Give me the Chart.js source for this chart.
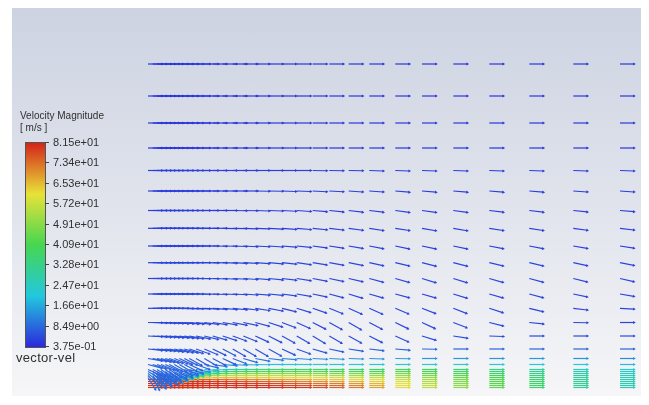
<!DOCTYPE html>
<html>
<head>
<meta charset="utf-8">
<script src="https://cdn.jsdelivr.net/npm/chart.js@4.4.0/dist/chart.umd.min.js"></script>
<style>
  body { margin: 0; background: #fff; }
  #frame { position: absolute; left: 0; top: 0; width: 649px; height: 405px; overflow: hidden;
           font-family: "Liberation Sans", Arial, sans-serif; color: #303030; }
  #panel { position: absolute; left: 12px; top: 8px; width: 629px; height: 388px;
           background: linear-gradient(#cdd3e2, #e2e5ed 55%, #f6f6f8); }
  #plot { position: absolute; left: 0; top: 0; width: 649px; height: 405px; }
  #bar { position: absolute; left: 25px; top: 142px; width: 19px; height: 204px; border: 1px solid #555; }
  .lbl { position: absolute; left: 53px; font-size: 11px; line-height: 12px; white-space: nowrap; }
  .tick { position: absolute; left: 45px; width: 4px; height: 1px; background: #444; }
  #title { position: absolute; left: 20px; top: 110px; font-size: 10px; line-height: 12px; white-space: nowrap; }
  #unit { position: absolute; left: 20px; top: 122px; font-size: 10px; line-height: 12px; white-space: nowrap; }
  #var { position: absolute; left: 16px; top: 351px; font-size: 13px; line-height: 14px; letter-spacing: 0.3px; white-space: nowrap; }
</style>
</head>
<body>
<div id="frame">
  <div id="panel"></div>
  <div id="plot"><canvas id="vecChart"></canvas></div>
  <div id="title"></div>
  <div id="unit"></div>
  <div id="bar"></div>
  <div id="var"></div>
</div>
<script>
// cell centres: streamwise distance from the jet exit, height above the wall
const colX = [0, 4.7, 9, 13, 17.3, 21.3, 26.3, 31.3, 36.3, 41.3, 48, 56.3, 64.7, 74.7, 84.7, 95.3,
  107.3, 120.7, 134, 148.7, 164.7, 181.3, 200.7, 221.3, 247.3, 274, 305.3, 341.3, 381.3, 425.3, 472];
const rowY = [325, 293, 266, 241, 218.5, 198, 178.5, 160.7, 143, 126.3, 110.5, 95, 80.7, 66.5,
  53, 40, 30.5, 24.5, 19.5, 17.5, 15.5, 13.5, 11.5, 9.5, 7.5, 5.5, 3.5, 1.5];

// downward tilt of each vector, degrees (row by row, top to bottom)
const dipDeg = [
  [0,0,0,0,0,0,0,0,0,0,0,0,0,0,0,0,0,0,0,0,0,0,0,0,0,0,0,0,0,0,0],
  [0,0,0,0,0,0,0,0,0,0,0,0,0,0,0,0,0,0,0,0,0,0,0,0,0,0,0,0,0,0,0],
  [0,0,0,0,0,0,0,0,0,0,0,0,0,0,0,0,0,0,0,0,0,0,0,0,0,0,0,0,0,0,0],
  [0,0,0,0,0,0,0,0,0,0,0,0,0,0,0,0,0,0,0,0,0,0,0,0,0,0,0,0,0,0,0],
  [0,0,0,0,0,0,0,0,0,0,0,0,0,0,0,0,0,0,0,0,1,1,1,2,2,2,2,2,2,2,2],
  [0,0,0,0,0,0,0,0,0,0,0,0,0,0,0,0,1,1,2,2,3,3,4,4,5,5,5,5,5,4,4],
  [0,0,0,0,0,0,0,0,0,0,0,0,0,0,1,1,2,2,3,4,5,6,7,7,8,8,8,7,7,6,5],
  [0,0,0,0,0,0,0,0,0,0,0,0,0,1,1,2,2,3,4,5,6,7,8,9,9,10,10,9,9,8,7],
  [0,0,0,0,0,0,0,0,0,0,0,0,1,1,2,3,3,4,5,6,8,9,10,11,12,12,12,11,11,10,9],
  [0,0,0,0,0,0,0,0,0,0,0,1,1,2,3,3,4,5,6,8,9,10,11,12,13,14,14,13,13,12,11],
  [0,0,0,0,0,0,0,0,0,0,1,1,2,3,3,4,5,6,7,9,11,12,13,15,16,17,17,16,15,14,13],
  [0,0,0,0,0,0,0,0,0,0,1,1,2,2,3,4,5,6,8,10,12,15,17,16,15,16,17,16,15,12,10],
  [0,0,0,0,0,0,0,1,1,2,2,3,4,5,6,7,9,11,14,17,19,22,24,24,23,21,21,18,14,7,3],
  [1,2,2,3,3,4,5,5,6,6,7,8,9,10,11,12,15,18,21,24,27,29,30,28,26,25,21,14,6,1,0],
  [3,4,5,5,6,7,8,9,10,11,12,14,16,18,20,22,25,27,29,30,31,30,29,27,24,17,9,2,0,0,0],
  [6,7,8,9,10,12,13,15,16,18,20,23,26,28,30,30,30,29,25,20,16,12,9,7,5,1,0,0,0,0,0],
  [10,12,14,16,18,20,22,25,27,29,30,30,28,25,21,16,11,7,5,4,3,3,2,2,1,0,0,0,0,0,0],
  [15,18,20,23,25,28,30,30,28,25,20,14,9,5,3,2,1,0,0,0,0,0,0,0,0,0,0,0,0,0,0],
  [25,28,32,35,35,33,30,25,20,15,10,5,2,0,0,0,0,0,0,0,0,0,0,0,0,0,0,0,0,0,0],
  [30,35,40,42,40,36,30,24,17,11,6,3,1,0,0,0,0,0,0,0,0,0,0,0,0,0,0,0,0,0,0],
  [38,44,46,44,40,34,27,20,13,8,4,2,0,0,0,0,0,0,0,0,0,0,0,0,0,0,0,0,0,0,0],
  [45,52,50,44,37,30,22,15,9,4,2,0,0,0,0,0,0,0,0,0,0,0,0,0,0,0,0,0,0,0,0],
  [58,62,52,40,30,22,15,9,5,2,0,0,0,0,0,0,0,0,0,0,0,0,0,0,0,0,0,0,0,0,0],
  [0,0,0,0,0,0,0,0,0,0,0,0,0,0,0,0,0,0,0,0,0,0,0,0,0,0,0,0,0,0,0],
  [0,0,0,0,0,0,0,0,0,0,0,0,0,0,0,0,0,0,0,0,0,0,0,0,0,0,0,0,0,0,0],
  [0,0,0,0,0,0,0,0,0,0,0,0,0,0,0,0,0,0,0,0,0,0,0,0,0,0,0,0,0,0,0],
  [0,0,0,0,0,0,0,0,0,0,0,0,0,0,0,0,0,0,0,0,0,0,0,0,0,0,0,0,0,0,0],
  [0,0,0,0,0,0,0,0,0,0,0,0,0,0,0,0,0,0,0,0,0,0,0,0,0,0,0,0,0,0,0]
];

// velocity magnitude of each vector, m/s
const speed = [
  [2,2,2,2,2,2,2,2,2,2,2,2,2,2,2,2,2,2,2,2,2,2,2,2,2,2,2,2,2,2,2],
  [2,2,2,2,2,2,2,2,2,2,2,2,2,2,2,2,2,2,2,2,2,2,2,2,2,2,2,2,2,2,2],
  [2,2,2,2,2,2,2,2,2,2,2,2,2,2,2,2,2,2,2,2,2,2,2,2,2,2,2,2,2,2,2],
  [2,2,2,2,2,2,2,2,2,2,2,2,2,2,2,2,2,2,2,2,2,2,2,2,2,2,2,2,2,2,2],
  [3,3,3,3,3,3,3,3,3,3,3,3,3,3,3,3,3,3,3,3,3,3,3,3,3,3,3,3,3,3,3],
  [3,3,3,3,3,3,3,3,3,3,3,3,3,3,3,3,3,3,3,3,3,3,3,3,3,3,3,3,3,3,3],
  [3,3,3,3,3,3,3,3,3,3,3,3,3,3,3,3,3,3,3,3,3,3,3,3,3,3,3,3,3,3,3],
  [3,3,3,3,3,3,3,3,3,3,3,3,3,3,3,3,3,3,3,3,3,3,3,3,3,3,3,3,3,3,3],
  [3,3,3,3,3,3,3,3,3,3,3,3,3,3,3,3,3,3,3,3,3,3,3,3,3,3,3,3,3,3,3],
  [4,4,4,4,4,4,4,4,4,4,4,4,4,4,4,4,4,4,4,4,4,4,4,4,4,4,4,4,4,4,4],
  [4,4,4,4,4,4,4,4,4,4,4,4,4,4,4,4,4,4,4,4,4,4,4,4,4,4,4,4,4,4,4],
  [4,4,4,4,4,4,4,4,4,4,4,4,4,4,4,4,4,4,4,4,4,4,4,4,4,4,4,4,4,4,4],
  [4,4,4,4,4,4,4,4,4,4,4,4,4,4,4,4,4,4,4,4,4,4,4,4,4,4,4,4,4,4,4],
  [4,4,4,4,4,4,4,4,4,4,4,4,4,4,4,4,4,4,4,4,4,4,4,4,4,4,4,4,4,4,4],
  [5,5,5,5,5,5,5,5,5,5,5,5,5,5,5,5,5,5,5,5,5,5,5,5,5,5,5,5,5,5,5],
  [6,6,6,6,6,6,6,6,6,6,6,6,6,6,6,6,6,6,6,6,6,7,7,8,8,8,8,8,8,8,8],
  [7,7,7,7,7,7,7,7,7,7,7,7,7,7,8,9,10,11,12,13,13,14,14,14,15,15,15,15,15,14,13],
  [8,8,8,8,8,8,8,8,8,8,8,9,11,13,15,17,19,20,21,22,22,22,22,22,24,24,24,23,22,21,19],
  [8,8,8,8,8,8,8,8,8,9,14,19,24,28,31,33,35,36,37,37,37,37,36,36,39,37,35,33,29,26,23],
  [8,8,8,8,8,8,8,8,10,13,20,26,31,35,38,40,42,42,43,43,42,42,41,41,43,41,38,35,31,27,24],
  [9,9,9,9,9,9,9,12,16,22,30,36,41,45,47,48,49,49,49,48,48,47,47,46,47,44,41,37,32,28,25],
  [9,9,9,9,9,9,15,22,30,38,45,50,53,55,56,56,56,56,55,55,54,53,52,51,51,47,43,39,34,29,26],
  [10,10,10,10,10,25,35,45,52,58,62,64,65,65,64,63,63,62,62,61,60,58,57,56,54,50,45,40,35,30,26],
  [80,80,80,80,80,80,80,80,80,78,76,75,74,73,72,71,70,69,68,67,65,64,62,60,57,52,47,42,36,30,27],
  [80,80,80,80,80,80,80,80,80,80,80,80,79,78,77,76,75,74,73,71,70,68,66,63,59,54,48,43,36,31,27],
  [80,80,80,80,80,80,80,80,80,80,80,80,80,80,80,79,78,77,76,75,73,72,69,66,61,55,49,43,37,31,27],
  [80,80,80,80,80,80,80,80,80,80,80,80,80,80,80,80,80,79,78,77,76,74,71,67,62,56,50,44,37,31,27],
  [80,80,80,80,80,80,80,80,80,80,80,80,80,80,80,80,80,80,80,79,77,75,72,68,62,56,50,44,37,31,27]
];

const legendTicks = ['8.15e+01', '7.34e+01', '6.53e+01', '5.72e+01', '4.91e+01', '4.09e+01',
  '3.28e+01', '2.47e+01', '1.66e+01', '8.49e+00', '3.75e-01'];
const vMin = 0.375, vMax = 81.5;

// rainbow map, a little muted like the screenshot
const MAP = [[44, 40, 220], [34, 200, 222], [70, 214, 80], [232, 226, 56], [212, 36, 26]];
const ARROW = 14;

function speedColor(v) {
  let t = (v - vMin) / (vMax - vMin);
  t = Math.max(0, Math.min(1, t)) * (MAP.length - 1);
  const i = Math.min(Math.floor(t), MAP.length - 2);
  const f = t - i;
  const c = MAP[i].map((a, k) => Math.round(a + (MAP[i + 1][k] - a) * f));
  return `rgb(${c[0]},${c[1]},${c[2]})`;
}

function buildLegend() {
  document.getElementById('title').textContent = 'Velocity Magnitude';
  document.getElementById('unit').textContent = '[ m/s ]';
  document.getElementById('var').textContent = 'vector-vel';
  const stops = MAP.map((c, i) => `rgb(${c.join(',')}) ${100 - i * 25}%`).reverse();
  document.getElementById('bar').style.background = `linear-gradient(${stops.join(',')})`;
  const frame = document.getElementById('frame');
  const top = 142, step = 204 / (legendTicks.length - 1);
  legendTicks.forEach((txt, i) => {
    const y = top + i * step;
    const l = document.createElement('div');
    l.className = 'lbl';
    l.style.top = (y - 6) + 'px';
    l.textContent = txt;
    frame.appendChild(l);
    const t = document.createElement('div');
    t.className = 'tick';
    t.style.top = Math.round(y) + 'px';
    frame.appendChild(t);
  });
}

function buildDatasets() {
  return rowY.map((h, r) => {
    const pts = [], cols = [], radii = [], rot = [];
    colX.forEach((x, c) => {
      const d = dipDeg[r][c] * Math.PI / 180;
      const col = speedColor(speed[r][c]);
      pts.push({ x, y: h },
               { x: x + ARROW * Math.cos(d), y: h - ARROW * Math.sin(d) },
               { x: null, y: null });
      cols.push(col, col, col);
      radii.push(0, 1.8, 0);
      rot.push(0, 90 + dipDeg[r][c], 0);
    });
    return {
      data: pts,
      borderWidth: 1.2,
      borderColor: cols[0],
      segment: { borderColor: ctx => cols[ctx.p0DataIndex] },
      spanGaps: false,
      pointStyle: 'triangle',
      pointRadius: radii,
      pointRotation: rot,
      pointBackgroundColor: cols,
      pointBorderColor: cols,
      pointBorderWidth: 0,
      tension: 0
    };
  });
}

function renderChart() {
  new Chart(document.getElementById('vecChart'), {
    type: 'line',
    data: { datasets: buildDatasets() },
    options: {
      responsive: true,
      maintainAspectRatio: false,
      animation: false,
      events: [],
      layout: { padding: 0 },
      plugins: { legend: { display: false }, tooltip: { enabled: false } },
      scales: {
        x: { type: 'linear', min: -148, max: 501, display: false },
        y: { type: 'linear', min: -16, max: 389, display: false }
      }
    }
  });
}

buildLegend();
renderChart();
</script>
</body>
</html>
